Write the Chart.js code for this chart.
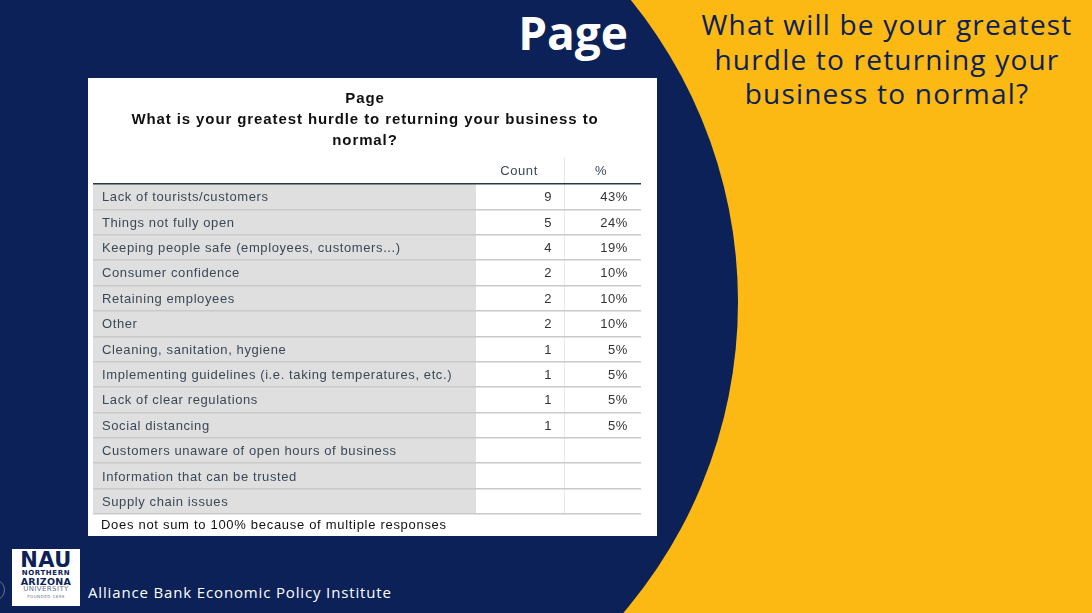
<!DOCTYPE html>
<html>
<head>
<meta charset="utf-8">
<script src="https://cdn.jsdelivr.net/npm/chart.js@4/dist/chart.umd.min.js"></script>
<style>
    html, body { margin: 0; padding: 0; }
    body {
        width: 1092px; height: 613px; overflow: hidden; position: relative;
        background: #fcb813; font-family: "Open Sans", sans-serif;
    }
    #circle {
        position: absolute; left: -220px; top: -177px; width: 958px; height: 958px;
        border-radius: 50%; background: #0b2157;
    }
    #page_title {
        position: absolute; left: 0; top: 10px; width: 628px; text-align: right;
        color: #fff; font-weight: 700; font-size: 46px; line-height: 45px;
    }
    #question {
        position: absolute; left: 687px; top: 7px; width: 400px; text-align: center;
        color: #0b2157; font-size: 28px; line-height: 34.5px; letter-spacing: 1.2px;
    }
    #table_box {
        position: absolute; left: 88px; top: 78px; width: 569px; height: 458px; background: #fff;
    }
    #logo {
        position: absolute; left: 12px; top: 549px; width: 68px; height: 57px; background: #fff;
        font-family: "DejaVu Sans", sans-serif; font-weight: bold; color: #0b2157;
    }
    #logo div { position: absolute; left: 0; width: 68px; text-align: center; white-space: nowrap; }
    #logo .nau { top: 1px; font-size: 21px; line-height: 21px; letter-spacing: 0.5px; }
    #logo .l1 { top: 21px; font-size: 7px; line-height: 7px; letter-spacing: 0.6px; }
    #logo .l2 { top: 28px; font-size: 9.5px; line-height: 9.5px; letter-spacing: 0.3px; }
    #logo .l3 { top: 37px; font-size: 7px; line-height: 7px; font-weight: normal; color: #5f6f93; letter-spacing: 0.4px; }
    #logo .l4 { top: 45.5px; font-size: 4px; line-height: 4px; font-weight: normal; color: #5f6f93; letter-spacing: 0.5px; }
    #institute {
        position: absolute; left: 88px; top: 585px; color: #fff; font-size: 15px; line-height: 15px;
        letter-spacing: 0.85px;
    }
    #dot {
        position: absolute; left: -17px; top: 579px; width: 20px; height: 20px;
        border: 1.5px solid #6d7386; border-radius: 50%;
    }
</style>
</head>
<body>
<div id="circle"></div>
<div id="page_title">Page</div>
<div id="question">What will be your greatest<br>hurdle to returning your<br>business to normal?</div>
<div id="table_box"><canvas id="TableChart_hurdle"></canvas></div>
<div id="dot"></div>
<div id="logo">
    <div class="nau">NAU</div>
    <div class="l1">NORTHERN</div>
    <div class="l2">ARIZONA</div>
    <div class="l3">UNIVERSITY</div>
    <div class="l4">FOUNDED 1899</div>
</div>
<div id="institute">Alliance Bank Economic Policy Institute</div>

<script>
// данные таблицы
let table_title = "Page";
let table_subtitle = ["What is your greatest hurdle to returning your business to", "normal?"];
let column_labels = ["Count", "%"];
let footnote = "Does not sum to 100% because of multiple responses";

let hurdle_labels = [
    "Lack of tourists/customers",
    "Things not fully open",
    "Keeping people safe (employees, customers...)",
    "Consumer confidence",
    "Retaining employees",
    "Other",
    "Cleaning, sanitation, hygiene",
    "Implementing guidelines (i.e. taking temperatures, etc.)",
    "Lack of clear regulations",
    "Social distancing",
    "Customers unaware of open hours of business",
    "Information that can be trusted",
    "Supply chain issues"
];
let hurdle_counts = [9, 5, 4, 2, 2, 2, 1, 1, 1, 1, null, null, null];
let hurdle_percents = [43, 24, 19, 10, 10, 10, 5, 5, 5, 5, null, null, null];

const text_color = "#3a4857";
const font_table = "Liberation Sans, Arial, sans-serif";

// рисуем ячейки таблицы по шкале y
const tableCellsPlugin = {
    id: 'tableCells',
    beforeDraw(chart) {
        const ctx = chart.ctx;
        const area = chart.chartArea;
        ctx.save();
        ctx.fillStyle = "#dfdfdf";
        ctx.fillRect(area.left, area.top, 388 - area.left, area.bottom - area.top);
        ctx.strokeStyle = "#e6e6e6";
        ctx.lineWidth = 1;
        ctx.beginPath();
        ctx.moveTo(476.5, area.top - 26);
        ctx.lineTo(476.5, area.bottom);
        ctx.stroke();
        ctx.restore();
        // разрядка букв как в оригинале (действует и на подписи оси)
        ctx.letterSpacing = "0.6px";
    },
    afterDraw(chart) {
        const ctx = chart.ctx;
        const area = chart.chartArea;
        const yScale = chart.scales.y;
        ctx.save();
        ctx.textBaseline = 'middle';

        // заголовок
        ctx.fillStyle = "#111";
        ctx.textAlign = 'center';
        ctx.letterSpacing = "0.9px";
        ctx.font = "bold 15px " + font_table;
        ctx.fillText(table_title, 277, 21);
        table_subtitle.forEach(function(line, i) {
            ctx.fillText(line, 277, 42 + i * 21);
        });

        // шапка колонок
        ctx.letterSpacing = "0.6px";
        ctx.fillStyle = text_color;
        ctx.font = "13px " + font_table;
        ctx.fillText(column_labels[0], 431, area.top - 13);
        ctx.fillText(column_labels[1], 513, area.top - 13);

        // значения
        ctx.textAlign = 'right';
        ctx.fillStyle = "#333";
        hurdle_labels.forEach(function(label, i) {
            const y = yScale.getPixelForValue(i) + 1;
            if (hurdle_counts[i] !== null) {
                ctx.fillText(String(hurdle_counts[i]), 464, y);
            }
            if (hurdle_percents[i] !== null) {
                ctx.fillText(hurdle_percents[i] + "%", 540, y);
            }
        });

        // примечание
        ctx.textAlign = 'left';
        ctx.fillStyle = "#111";
        ctx.letterSpacing = "0.7px";
        ctx.fillText(footnote, 13, area.bottom + 11);
        ctx.restore();
    }
};

function TableChart_hurdle(id_chart, labels, counts) {
    const tableCtx = document.getElementById(id_chart).getContext('2d');
    const rows = labels.length;
    const myTableChart = new Chart(tableCtx, {
        type: 'bar',
        data: {
            labels: labels,
            datasets: [{
                label: column_labels[0],
                data: counts,
                backgroundColor: 'transparent',
                borderWidth: 0
            }]
        },
        options: {
            indexAxis: 'y',
            responsive: true,
            maintainAspectRatio: false,
            animation: false,
            events: [],
            layout: {
                padding: { left: 5, right: 16, top: 106, bottom: 22 }
            },
            scales: {
                x: {
                    display: false,
                    min: 0,
                    max: 10
                },
                y: {
                    offset: true,
                    afterFit: function(scale) { scale.width = 0; },
                    border: { display: false },
                    grid: {
                        offset: true,
                        drawTicks: false,
                        color: function(context) {
                            return (context.index === 0 || context.index === rows) ? "#2b3a42" : "#c9c9c9";
                        },
                        lineWidth: 1.5
                    },
                    ticks: {
                        mirror: true,
                        padding: 9,
                        labelOffset: 1,
                        color: text_color,
                        font: { family: font_table, size: 13 }
                    }
                }
            },
            plugins: {
                legend: { display: false },
                tooltip: { enabled: false }
            }
        },
        plugins: [tableCellsPlugin]
    });
}

TableChart_hurdle("TableChart_hurdle", hurdle_labels, hurdle_counts);
</script>
</body>
</html>
